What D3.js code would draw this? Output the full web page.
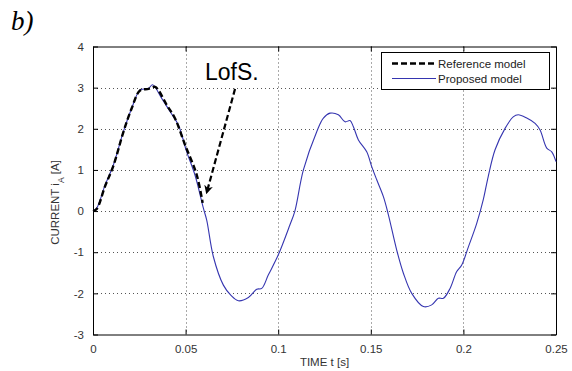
<!DOCTYPE html>
<html>
<head>
<meta charset="utf-8">
<script src="https://cdn.jsdelivr.net/npm/d3@7"></script>
<style>
  body { margin: 0; background: #fff; }
  svg { display: block; }
</style>
</head>
<body>
<svg id="chart" width="572" height="371"></svg>
<script>
// ---- Data ----
const xTicks = [0, 0.05, 0.1, 0.15, 0.2, 0.25];
const xTickLabels = ["0", "0.05", "0.1", "0.15", "0.2", "0.25"];
const yTicks = [-3, -2, -1, 0, 1, 2, 3, 4];
const yTickLabels = ["-3", "-2", "-1", "0", "1", "2", "3", "4"];

const proposedT = [0, 0.002, 0.0065, 0.011, 0.0164, 0.0209, 0.0254, 0.0299, 0.0322, 0.0371, 0.0416, 0.0461, 0.0506, 0.0551, 0.0596,
  0.0614, 0.065, 0.0704, 0.0745, 0.0785, 0.0839, 0.0884, 0.0911, 0.0947, 0.1, 0.1063, 0.109, 0.1136, 0.1208, 0.1244, 0.128,
  0.1325, 0.1361, 0.1388, 0.1406, 0.1433, 0.1478, 0.1505, 0.1532, 0.1568, 0.1595, 0.164, 0.1676, 0.1721, 0.1784, 0.1829,
  0.1865, 0.1892, 0.1928, 0.1964, 0.1991, 0.2027, 0.2072, 0.2107, 0.2134, 0.2171, 0.2225, 0.2269, 0.2296, 0.2342, 0.2387,
  0.2414, 0.245, 0.2477, 0.25];
const proposedV = [0, 0.07, 0.63, 1.12, 1.93, 2.5, 2.94, 2.98, 3.07, 2.74, 2.42, 2.09, 1.44, 0.87, 0.07,
  -0.22, -1.11, -1.8, -2.05, -2.18, -2.1, -1.9, -1.88, -1.55, -1.07, -0.34, 0, 1.0, 1.93, 2.26, 2.38,
  2.34, 2.17, 2.2, 2.05, 1.73, 1.44, 1.08, 0.76, 0.35, -0.09, -0.95, -1.51, -2.0, -2.32, -2.28,
  -2.12, -2.12, -1.88, -1.47, -1.31, -0.87, -0.3, 0.27, 0.84, 1.49, 2.01, 2.29, 2.34, 2.26, 2.13,
  1.97, 1.53, 1.44, 1.2];

const referenceT = [0, 0.002, 0.0065, 0.011, 0.0164, 0.0209, 0.0254, 0.03, 0.0335, 0.0353, 0.0398, 0.0443, 0.0497, 0.056, 0.0592];
const referenceV = [0, 0.05, 0.6, 1.1, 1.92, 2.5, 2.93, 2.97, 3.02, 2.94, 2.58, 2.25, 1.61, 0.88, 0.2];

const seriesNames = ["Reference model", "Proposed model"];
const annotationText = "LofS.";
// annotation arrow: from/to in data units
const arrowFrom = [0.0767, 2.97];
const arrowTo = [0.0614, 0.45];

// ---- Layout ----
const svg = d3.select("#chart");
const L = 93, R = 556, T = 46.5, B = 334.5;
const x = d3.scaleLinear().domain([0, 0.25]).range([L, R]);
const y = d3.scaleLinear().domain([-3, 4]).range([B, T]);
const font = "'Liberation Sans', Arial, sans-serif";

// grid
const grid = svg.append("g").attr("stroke", "#555").attr("stroke-width", 1).attr("stroke-dasharray", "1,3");
xTicks.slice(1, -1).forEach(t => grid.append("line")
  .attr("x1", Math.round(x(t)) + 0.5).attr("x2", Math.round(x(t)) + 0.5).attr("y1", T).attr("y2", B));
yTicks.slice(1, -1).forEach(v => grid.append("line")
  .attr("y1", Math.round(y(v)) + 0.5).attr("y2", Math.round(y(v)) + 0.5).attr("x1", L).attr("x2", R));

// axes (inward ticks on all four sides)
const axB = d3.axisBottom(x).tickValues(xTicks).tickFormat((d, i) => xTickLabels[i]).tickSizeInner(-5).tickSizeOuter(0).tickPadding(10);
const axT = d3.axisTop(x).tickValues(xTicks).tickFormat("").tickSizeInner(-5).tickSizeOuter(0);
const axLf = d3.axisLeft(y).tickValues(yTicks).tickFormat((d, i) => yTickLabels[i]).tickSizeInner(-5).tickSizeOuter(0).tickPadding(9);
const axRt = d3.axisRight(y).tickValues(yTicks).tickFormat("").tickSizeInner(-5).tickSizeOuter(0);

function styleAxis(g) {
  g.selectAll("path, line").attr("stroke", "#000");
  g.selectAll("text").attr("fill", "#333").style("font-family", font).style("font-size", "11.5px");
}
svg.append("g").attr("transform", `translate(0,${B})`).call(axB).call(styleAxis);
svg.append("g").attr("transform", `translate(0,${T})`).call(axT).call(styleAxis);
svg.append("g").attr("transform", `translate(${L},0)`).call(axLf).call(styleAxis);
svg.append("g").attr("transform", `translate(${R},0)`).call(axRt).call(styleAxis);

// lines
const line = d3.line().x(d => x(d[0])).y(d => y(d[1])).curve(d3.curveCatmullRom.alpha(0.5));
svg.append("path").datum(proposedT.map((t, i) => [t, proposedV[i]]))
  .attr("d", line).attr("fill", "none").attr("stroke", "#3535b0").attr("stroke-width", 1.1);
svg.append("path").datum(referenceT.map((t, i) => [t, referenceV[i]]))
  .attr("d", line).attr("fill", "none").attr("stroke", "#000").attr("stroke-width", 2.4).attr("stroke-dasharray", "6,3");

// annotation
svg.append("defs").append("marker").attr("id", "ah").attr("viewBox", "0 0 10 10")
  .attr("refX", 8).attr("refY", 5).attr("markerWidth", 4).attr("markerHeight", 4).attr("orient", "auto")
  .append("path").attr("d", "M0,0 L10,5 L0,10 L3,5 Z").attr("fill", "#000");
svg.append("line")
  .attr("x1", x(arrowFrom[0])).attr("y1", y(arrowFrom[1]))
  .attr("x2", x(arrowTo[0])).attr("y2", y(arrowTo[1]))
  .attr("stroke", "#000").attr("stroke-width", 2.2).attr("stroke-dasharray", "6,3")
  .attr("marker-end", "url(#ah)");
svg.append("text").attr("x", 205).attr("y", 80).text(annotationText)
  .style("font-family", font).style("font-size", "23px").attr("fill", "#000");

// legend
const lg = svg.append("g");
lg.append("rect").attr("x", 381.5).attr("y", 52.5).attr("width", 168).attr("height", 37)
  .attr("fill", "#fff").attr("stroke", "#000").attr("stroke-width", 1);
lg.append("line").attr("x1", 392).attr("x2", 436).attr("y1", 63.5).attr("y2", 63.5)
  .attr("stroke", "#000").attr("stroke-width", 2.4).attr("stroke-dasharray", "6,3");
lg.append("line").attr("x1", 392).attr("x2", 436).attr("y1", 78.5).attr("y2", 78.5)
  .attr("stroke", "#3535b0").attr("stroke-width", 1.1);
lg.append("text").attr("x", 438).attr("y", 67.5).text(seriesNames[0])
  .style("font-family", font).style("font-size", "11.5px").attr("fill", "#222");
lg.append("text").attr("x", 438).attr("y", 82.5).text(seriesNames[1])
  .style("font-family", font).style("font-size", "11.5px").attr("fill", "#222");

// axis titles
svg.append("text").attr("x", (L + R) / 2).attr("y", 366).attr("text-anchor", "middle")
  .text("TIME t [s]").style("font-family", font).style("font-size", "11.5px").attr("fill", "#333");
const yl = svg.append("text").attr("transform", `translate(59,${(T + B) / 2 + 12}) rotate(-90)`)
  .attr("text-anchor", "middle").style("font-family", font).style("font-size", "11.5px").attr("fill", "#333");
yl.append("tspan").text("CURRENT i");
yl.append("tspan").text("A").attr("baseline-shift", "sub").style("font-size", "8.5px");
yl.append("tspan").text(" [A]");

// panel label
svg.append("text").attr("x", 11).attr("y", 30).text("b)")
  .style("font-family", "'Liberation Serif', 'Times New Roman', serif").style("font-style", "italic")
  .style("font-size", "27px").attr("fill", "#000");
</script>
</body>
</html>
